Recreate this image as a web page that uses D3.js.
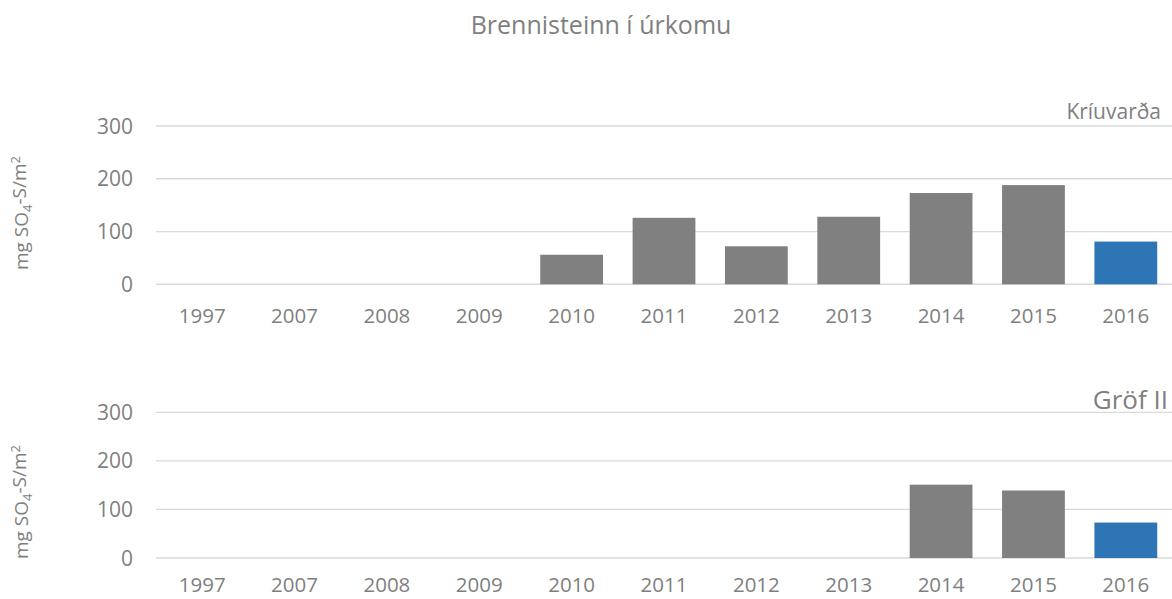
<!DOCTYPE html>
<meta charset="utf-8">
<head>
  <title>Brennisteinn í úrkomu</title>
  <style>
    body { margin: 0; background: #fff; }
    text { font-family: "Open Sans", sans-serif; fill: #7f7f7f; }
  </style>
</head>

<script src="https://d3js.org/d3.v7.min.js"></script>

<div id="my_dataviz"></div>

<script>

// data
var years = ["1997", "2007", "2008", "2009", "2010", "2011", "2012", "2013", "2014", "2015", "2016"];
var kriuvardaValues = [null, null, null, null, 56, 126, 72, 128, 173, 188, 81];
var grofValues = [null, null, null, null, null, null, null, null, 151, 139, 73];
var yTicks = [0, 100, 200, 300];
var panelNames = ["Kríuvarða", "Gröf II"];

var width = 1172, height = 599;

var svg = d3.select("#my_dataviz")
  .append("svg")
    .attr("width", width)
    .attr("height", height);

// title
svg.append("text")
  .attr("x", 601)
  .attr("y", 34)
  .attr("text-anchor", "middle")
  .style("font-size", "25px")
  .text("Brennisteinn í úrkomu");

var x = d3.scaleBand()
  .domain(years)
  .range([156, 1172])
  .paddingInner(0.32)
  .paddingOuter(0.16);

function drawPanel(values, name, top, bottom, labelY, labelSize, labelRight, tickY, axisLabelY) {
  var y = d3.scaleLinear()
    .domain([0, 300])
    .range([bottom, top]);

  var g = svg.append("g");

  // gridlines
  g.selectAll(".grid")
    .data(yTicks)
    .enter()
    .append("line")
      .attr("x1", 156)
      .attr("x2", 1172)
      .attr("y1", function(d) { return y(d) })
      .attr("y2", function(d) { return y(d) })
      .attr("stroke", "#d9d9d9")
      .attr("stroke-width", function(d) { return d == 0 ? 1.6 : 1.3 });

  // y tick labels
  g.selectAll(".ylab")
    .data(yTicks)
    .enter()
    .append("text")
      .attr("x", 133)
      .attr("y", function(d) { return y(d) })
      .attr("dy", "0.36em")
      .attr("text-anchor", "end")
      .style("font-size", "21px")
      .text(function(d) { return d });

  // bars
  g.selectAll(".bar")
    .data(years.map(function(yr, i) { return {year: yr, value: values[i], last: i == years.length - 1} })
      .filter(function(d) { return d.value != null }))
    .enter()
    .append("rect")
      .attr("x", function(d) { return x(d.year) })
      .attr("width", x.bandwidth())
      .attr("y", function(d) { return y(d.value) })
      .attr("height", function(d) { return y(0) - y(d.value) })
      .attr("fill", function(d) { return d.last ? "#2e75b6" : "#808080" });

  // x tick labels
  g.selectAll(".xlab")
    .data(years)
    .enter()
    .append("text")
      .attr("x", function(d) { return x(d) + x.bandwidth() / 2 })
      .attr("y", tickY)
      .attr("text-anchor", "middle")
      .style("font-size", "20.5px")
      .text(function(d) { return d });

  // panel name
  g.append("text")
    .attr("x", labelRight)
    .attr("y", labelY)
    .attr("text-anchor", "end")
    .style("font-size", labelSize)
    .text(name);

  // y axis label
  var lab = g.append("text")
    .attr("transform", "translate(28," + axisLabelY + ") rotate(-90)")
    .attr("text-anchor", "middle")
    .style("font-size", "19px");
  lab.append("tspan").text("mg SO");
  lab.append("tspan").attr("dy", "0.3em").style("font-size", "13px").text("4");
  lab.append("tspan").attr("dy", "-0.3em").text("-S/m");
  lab.append("tspan").attr("dy", "-0.45em").style("font-size", "13px").text("2");
}

drawPanel(kriuvardaValues, panelNames[0], 126, 284.3, 119, "21px", 1161, 323, 213);
drawPanel(grofValues, panelNames[1], 412.3, 558, 409, "26px", 1168, 592, 502);

</script>
